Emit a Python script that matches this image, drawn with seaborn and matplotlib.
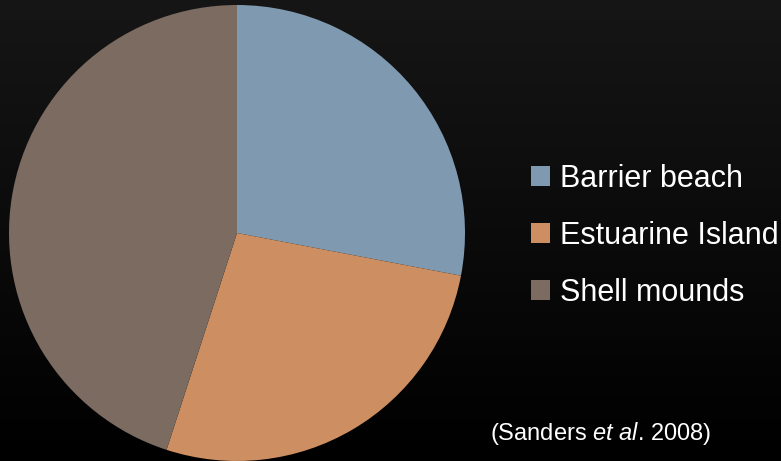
import numpy as np
import matplotlib
matplotlib.use("Agg")
import matplotlib.pyplot as plt
import seaborn as sns
from matplotlib.colors import LinearSegmentedColormap

categories = ["Barrier beach", "Estuarine Island", "Shell mounds"]
values = [28, 27, 45]
colors = ["#7f9ab0", "#cd8f62", "#7b6b60"]
citation_parts = ["(Sanders ", "et al", ". 2008)"]

sns.set_style("dark")
font = ["Liberation Sans", "DejaVu Sans"]
plt.rcParams["font.family"] = font
plt.rcParams["mathtext.fontset"] = "custom"
plt.rcParams["mathtext.rm"] = "Liberation Sans"
plt.rcParams["mathtext.it"] = "Liberation Sans:italic"

palette = sns.color_palette(colors)

W, H = 781, 461
fig = plt.figure(figsize=(W / 100, H / 100), dpi=100)

# background gradient
bg = fig.add_axes([0, 0, 1, 1], zorder=-10)
grad = np.linspace(0, 1, 256).reshape(-1, 1)
cmap = LinearSegmentedColormap.from_list("bg", ["#161616", "#000000"])
bg.imshow(grad, aspect="auto", cmap=cmap, extent=[0, 1, 0, 1])
bg.set_axis_off()

cx, cy, r = 237, 233, 228
ax = fig.add_axes([(cx - r) / W, (H - cy - r) / H, 2 * r / W, 2 * r / H])
ax.set_facecolor("none")
wedges, _ = ax.pie(values, colors=palette, startangle=90, counterclock=False,
                   radius=1, wedgeprops=dict(linewidth=0))
ax.set_xlim(-1, 1)
ax.set_ylim(-1, 1)
ax.set_axis_off()

leg = fig.legend(wedges, categories, loc="center left",
                 bbox_to_anchor=(531 / W, 1 - 236 / H),
                 frameon=False, fontsize=22, handlelength=0.62, handleheight=0.62,
                 handletextpad=0.33, labelspacing=0.88, borderpad=0, borderaxespad=0)
for t in leg.get_texts():
    t.set_color("white")

fig.text(490 / W, 1 - 433 / H,
         citation_parts[0] + r"$\it{" + citation_parts[1].replace(" ", r"\ ") + "}$" + citation_parts[2],
         color="white", fontsize=17, va="center", ha="left")

fig.savefig("out.png", dpi=100, facecolor="black")
